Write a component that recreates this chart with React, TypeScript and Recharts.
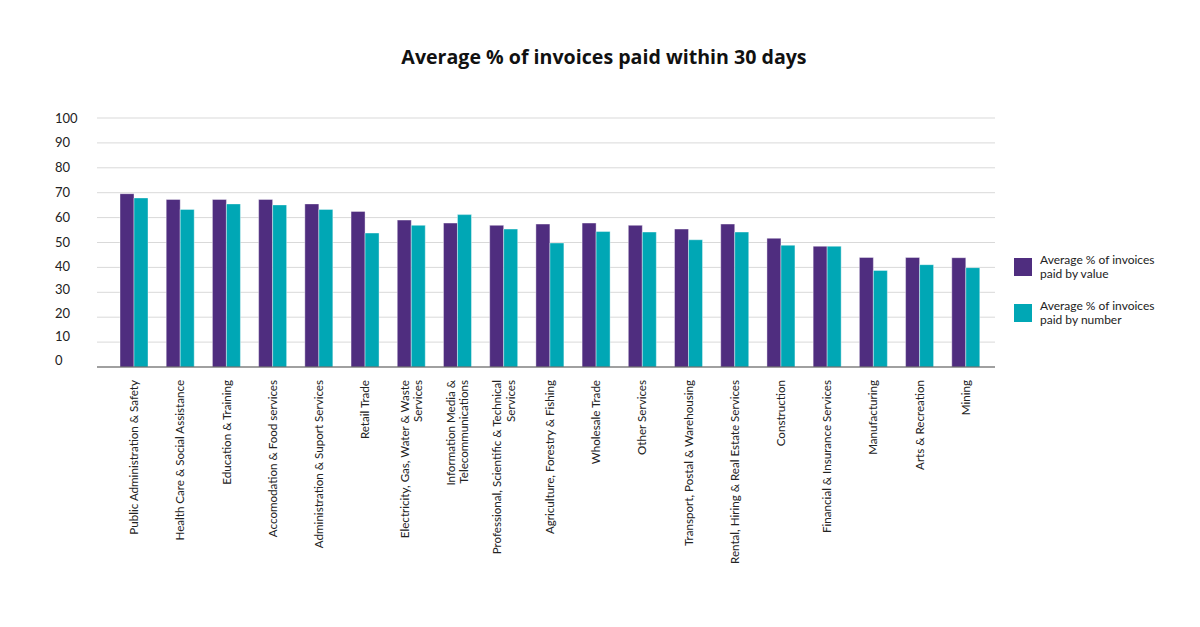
import React from 'react';
import { BarChart, Bar, XAxis, YAxis, CartesianGrid } from 'recharts';

const categories = [
  'Public Administration & Safety',
  'Health Care & Social Assistance',
  'Education & Training',
  'Accomodation & Food  services',
  'Administration & Suport Services',
  'Retail Trade',
  'Electricity, Gas, Water & Waste\nServices',
  'Information Media &\nTelecommunications',
  'Professional, Scientific & Technical\nServices',
  'Agriculture, Forestry & Fishing',
  'Wholesale Trade',
  'Other Services',
  'Transport, Postal & Warehousing',
  'Rental, Hiring & Real Estate Services',
  'Construction',
  'Financial & Insurance Services',
  'Manufacturing',
  'Arts & Recreation',
  'Mining',
];

const paidByValue = [69.6, 67.3, 67.3, 67.3, 65.5, 62.5, 59.0, 57.8, 56.9, 57.4, 57.8, 56.9, 55.4, 57.4, 51.7, 48.5, 44.0, 44.0, 43.9];
const paidByNumber = [67.9, 63.3, 65.5, 65.1, 63.3, 53.8, 56.9, 61.2, 55.4, 49.8, 54.4, 54.2, 51.1, 54.2, 48.9, 48.5, 38.8, 41.1, 39.9];

const yTicks = [0, 10, 20, 30, 40, 50, 60, 70, 80, 90, 100];
const seriesNames = ['Average % of invoices\npaid by value', 'Average % of invoices\npaid by number'];
const title = 'Average % of invoices paid within 30 days';

const PURPLE = '#4f2d7f';
const TEAL = '#00a7b5';
const FONT = 'Lato, "Noto Sans", sans-serif';

const data = categories.map((name, i) => ({
  name,
  value: paidByValue[i],
  number: paidByNumber[i],
}));

// Rotated category label, reads bottom-to-top, ends just under the axis
const CategoryTick = (props: any) => {
  const { x, y, payload } = props;
  const lines: string[] = String(payload.value).split('\n');
  const lineGap = 13.5;
  const first = 2 - ((lines.length - 1) * lineGap) / 2;
  return (
    <g transform={`translate(${x},${y})`}>
      <text
        transform="rotate(-90)"
        textAnchor="end"
        fontSize={11.6}
        fontFamily={FONT}
        fill="#222"
      >
        {lines.map((line, i) => (
          <tspan key={i} x={-5} y={first + i * lineGap + 2}>
            {line}
          </tspan>
        ))}
      </text>
    </g>
  );
};

// Y labels sit left-aligned; lower ones drift a little above their grid lines
const ValueTick = (props: any) => {
  const { y, payload } = props;
  const drift = payload.value < 50 ? -(50 - payload.value) * 0.14 : 0;
  return (
    <text
      x={55}
      y={y + drift}
      dy={4.5}
      textAnchor="start"
      fontSize={13}
      fontFamily={FONT}
      fill="#222"
    >
      {payload.value}
    </text>
  );
};

const LegendBox = () => {
  const colors = [PURPLE, TEAL];
  return (
    <div
      style={{
        position: 'absolute',
        left: 1014,
        top: 253,
        fontFamily: FONT,
        fontSize: 12,
        color: '#222',
      }}
    >
      {seriesNames.map((label, i) => (
        <div key={i} style={{ display: 'flex', alignItems: 'center', marginBottom: i === 0 ? 18 : 0 }}>
          <div style={{ width: 18, height: 18, background: colors[i], marginRight: 8 }} />
          <div style={{ lineHeight: '14px', whiteSpace: 'pre' }}>{label}</div>
        </div>
      ))}
    </div>
  );
};

export default function App() {
  return (
    <div style={{ position: 'relative', width: 1200, height: 627, background: '#fff' }}>
      <style>{'body{margin:0}'}</style>
      <div
        style={{
          position: 'absolute',
          top: 46,
          left: 0,
          width: 1208,
          textAlign: 'center',
          fontFamily: '"Open Sans", sans-serif',
          fontWeight: 700,
          fontSize: 19.6,
          lineHeight: '22px',
          color: '#111',
        }}
      >
        {title}
      </div>
      <BarChart
        width={1200}
        height={627}
        data={data}
        margin={{ top: 118, right: 205, bottom: 0, left: 0 }}
        barSize={14}
        barGap={0}
      >
        <CartesianGrid vertical={false} stroke="#d9d9d9" />
        <XAxis
          dataKey="name"
          interval={0}
          height={260}
          padding={{ left: 14, right: 6 }}
          tickLine={false}
          axisLine={{ stroke: '#555', strokeWidth: 1.2 }}
          tick={<CategoryTick />}
        />
        <YAxis
          domain={[0, 100]}
          ticks={yTicks}
          interval={0}
          width={97}
          axisLine={false}
          tickLine={false}
          tick={<ValueTick />}
        />
        <Bar dataKey="value" fill={PURPLE} stroke="rgba(255,255,255,0.4)" strokeWidth={1} isAnimationActive={false} />
        <Bar dataKey="number" fill={TEAL} stroke="rgba(255,255,255,0.4)" strokeWidth={1} isAnimationActive={false} />
      </BarChart>
      <LegendBox />
    </div>
  );
}
